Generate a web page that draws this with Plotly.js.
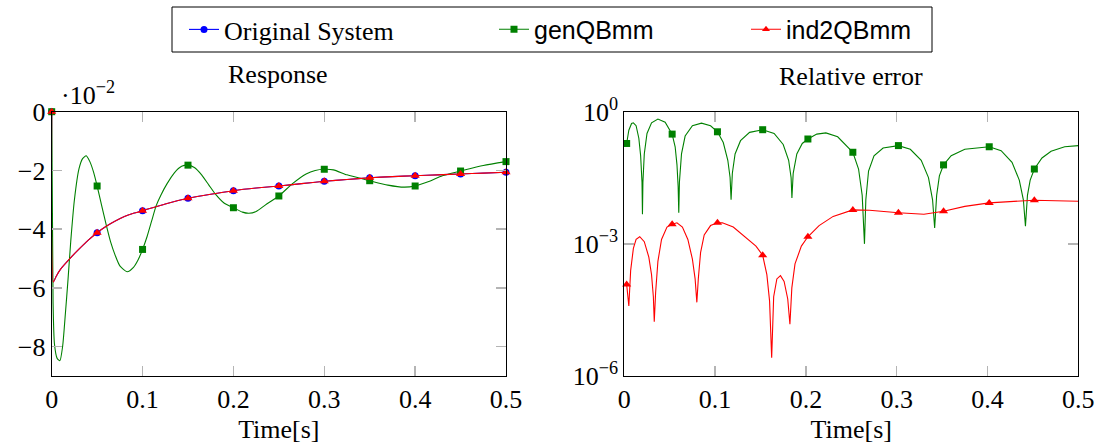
<!DOCTYPE html>
<html>
<head>
<meta charset="utf-8">
<script src="https://cdn.plot.ly/plotly-3.0.1.min.js"></script>
<style>html,body{margin:0;padding:0;background:#fff;}#chart{width:1100px;height:446px;}</style>
</head>
<body>
<div id="chart"></div>
<script>
// ---------- Data ----------
// Left panel: Response (values in units of 1e-2)
var respT = [0, 0.0018, 0.005, 0.01, 0.02, 0.03, 0.04, 0.05, 0.06, 0.07, 0.08, 0.09, 0.1, 0.125, 0.15, 0.175, 0.2, 0.225, 0.25, 0.275, 0.3, 0.325, 0.35, 0.375, 0.4, 0.425, 0.45, 0.475, 0.5];
var origResp = [0, -5.8, -5.6, -5.35, -5.0, -4.68, -4.38, -4.12, -3.9, -3.72, -3.57, -3.46, -3.37, -3.14, -2.95, -2.81, -2.69, -2.6, -2.53, -2.45, -2.37, -2.31, -2.25, -2.21, -2.18, -2.15, -2.12, -2.09, -2.06];
var ind2Resp = [0, -5.8, -5.6, -5.35, -5.0, -4.68, -4.38, -4.12, -3.9, -3.72, -3.57, -3.46, -3.37, -3.14, -2.95, -2.81, -2.69, -2.6, -2.53, -2.45, -2.37, -2.31, -2.25, -2.21, -2.18, -2.15, -2.12, -2.09, -2.06];

var genT = [0, 0.0015, 0.003, 0.006, 0.009, 0.012, 0.015, 0.018, 0.021, 0.025, 0.03, 0.034, 0.038, 0.042, 0.046, 0.05, 0.055, 0.06, 0.065, 0.07, 0.075, 0.083, 0.09, 0.095, 0.1, 0.105, 0.11, 0.115, 0.12, 0.127, 0.135, 0.143, 0.15, 0.157, 0.165, 0.173, 0.18, 0.19, 0.2, 0.21, 0.217, 0.225, 0.235, 0.25, 0.265, 0.28, 0.29, 0.3, 0.31, 0.325, 0.35, 0.37, 0.388, 0.4, 0.415, 0.43, 0.45, 0.475, 0.5];
var genResp = [0, -6.5, -7.9, -8.4, -8.48, -8.0, -6.9, -5.7, -4.4, -3.0, -1.95, -1.6, -1.5, -1.7, -2.05, -2.53, -3.2, -3.85, -4.45, -4.9, -5.25, -5.45, -5.3, -5.05, -4.69, -4.25, -3.72, -3.2, -2.85, -2.45, -2.08, -1.86, -1.82, -1.9, -2.15, -2.5, -2.8, -3.12, -3.27, -3.42, -3.46, -3.4, -3.18, -2.87, -2.45, -2.12, -2.0, -1.96, -1.98, -2.15, -2.35, -2.5, -2.57, -2.53, -2.38, -2.18, -2.02, -1.83, -1.70];

var respMarkT = [0, 0.05, 0.1, 0.15, 0.2, 0.25, 0.3, 0.35, 0.4, 0.45, 0.5];

// Right panel: Relative error
var genErrT = [0.0026, 0.005, 0.008, 0.010, 0.013, 0.016, 0.018, 0.0195, 0.020, 0.0205, 0.022, 0.025, 0.03, 0.037, 0.045, 0.0527, 0.056, 0.058, 0.0593, 0.060, 0.0607, 0.063, 0.067, 0.075, 0.085, 0.095, 0.1026, 0.109, 0.114, 0.1165, 0.1176, 0.119, 0.122, 0.128, 0.138, 0.1524, 0.165, 0.175, 0.181, 0.1837, 0.1846, 0.186, 0.19, 0.196, 0.2022, 0.212, 0.222, 0.235, 0.2517, 0.258, 0.262, 0.2645, 0.266, 0.269, 0.275, 0.285, 0.3019, 0.315, 0.327, 0.335, 0.3395, 0.3418, 0.344, 0.347, 0.3516, 0.36, 0.375, 0.4019, 0.415, 0.427, 0.435, 0.4395, 0.4418, 0.444, 0.447, 0.4516, 0.46, 0.47, 0.485, 0.5];
var genErr = [0.19, 0.38, 0.54, 0.56, 0.48, 0.25, 0.10, 0.025, 0.0047, 0.025, 0.11, 0.32, 0.56, 0.68, 0.58, 0.31, 0.16, 0.063, 0.02, 0.0051, 0.025, 0.11, 0.28, 0.48, 0.55, 0.48, 0.35, 0.2, 0.079, 0.032, 0.010, 0.04, 0.11, 0.22, 0.34, 0.39, 0.32, 0.18, 0.079, 0.032, 0.011, 0.04, 0.11, 0.19, 0.24, 0.31, 0.33, 0.27, 0.12, 0.05, 0.0126, 0.001, 0.01, 0.045, 0.1, 0.15, 0.17, 0.14, 0.079, 0.032, 0.01, 0.0023, 0.0126, 0.035, 0.062, 0.1, 0.14, 0.16, 0.13, 0.071, 0.028, 0.01, 0.0025, 0.0126, 0.028, 0.05, 0.089, 0.126, 0.16, 0.17];

var ind2ErrT = [0.0026, 0.005, 0.007, 0.01, 0.013, 0.017, 0.022, 0.027, 0.030, 0.032, 0.033, 0.0345, 0.037, 0.041, 0.047, 0.0527, 0.058, 0.064, 0.07, 0.075, 0.078, 0.0799, 0.0815, 0.084, 0.088, 0.095, 0.1026, 0.108, 0.12, 0.135, 0.145, 0.1524, 0.157, 0.160, 0.1623, 0.1645, 0.168, 0.172, 0.176, 0.18, 0.1824, 0.1845, 0.188, 0.195, 0.2022, 0.2145, 0.23, 0.2517, 0.27, 0.3019, 0.33, 0.3516, 0.375, 0.4019, 0.43, 0.4516, 0.475, 0.5];
var ind2Err = [1.2e-4, 3.9e-5, 2.5e-4, 7.9e-4, 1.26e-3, 1.45e-3, 1.12e-3, 5.0e-4, 2.0e-4, 6.3e-5, 1.7e-5, 7.9e-5, 4.0e-4, 1.26e-3, 2.4e-3, 2.8e-3, 3.0e-3, 2.4e-3, 1.26e-3, 4.5e-4, 1.6e-4, 4.7e-5, 1.6e-4, 6.3e-4, 1.6e-3, 2.6e-3, 3.0e-3, 3.0e-3, 2.4e-3, 1.35e-3, 8.9e-4, 5.5e-4, 2.0e-4, 5.0e-5, 2.6e-6, 6.3e-5, 1.6e-4, 1.9e-4, 1.4e-4, 5.6e-5, 1.5e-5, 1.0e-4, 3.5e-4, 8.9e-4, 1.45e-3, 2.6e-3, 4.2e-3, 5.9e-3, 5.8e-3, 5.1e-3, 4.7e-3, 5.5e-3, 7.1e-3, 8.5e-3, 9.3e-3, 9.8e-3, 9.5e-3, 9.3e-3];

var errMarkT = [0.0026, 0.0527, 0.1026, 0.1524, 0.2022, 0.2517, 0.3019, 0.3516, 0.4019, 0.4516];

var timeTicks = [0, 0.1, 0.2, 0.3, 0.4, 0.5];
var timeTickText = ['0', '0.1', '0.2', '0.3', '0.4', '0.5'];
var yTickVals = [-8, -6, -4, -2, 0];
var errTickVals = [1e-6, 1e-3, 1];
var errTickText = ['10<sup>\u22126</sup>', '10<sup>\u22123</sup>', '10<sup>0</sup>'];

// ---------- helpers ----------
function pick(t, v, marks) {
  var xs = [], ys = [];
  for (var i = 0; i < t.length; i++) {
    for (var j = 0; j < marks.length; j++) {
      if (Math.abs(t[i] - marks[j]) < 1e-7) { xs.push(t[i]); ys.push(v[i]); break; }
    }
  }
  return {x: xs, y: ys};
}

var W = 1100, H = 446;
var BLUE = '#0000ff', GREEN = '#008000', RED = '#ff0000';
var SERIF = 'Liberation Serif, Times New Roman, serif';

function lineTrace(x, y, color, xa, ya, shape) {
  return {x: x, y: y, xaxis: xa, yaxis: ya, type: 'scatter', mode: 'lines',
          line: {color: color, width: 1.1, shape: shape || 'linear', smoothing: 0.6},
          showlegend: false, hoverinfo: 'skip'};
}
function markTrace(p, color, symbol, size, xa, ya) {
  return {x: p.x, y: p.y, xaxis: xa, yaxis: ya, type: 'scatter', mode: 'markers',
          marker: {color: color, symbol: symbol, size: size, line: {width: 0}},
          showlegend: false, hoverinfo: 'skip', cliponaxis: false};
}

var traces = [];
// left panel
traces.push(lineTrace(respT, origResp, BLUE, 'x', 'y', 'spline'));
traces.push(markTrace(pick(respT, origResp, respMarkT), BLUE, 'circle', 7, 'x', 'y'));
traces.push(lineTrace(genT, genResp, GREEN, 'x', 'y', 'spline'));
traces.push(markTrace(pick(genT, genResp, respMarkT), GREEN, 'square', 7, 'x', 'y'));
traces.push(lineTrace(respT, ind2Resp, RED, 'x', 'y', 'spline'));
traces.push(markTrace(pick(respT, ind2Resp, respMarkT), RED, 'triangle-up', 8, 'x', 'y'));
// right panel
traces.push(lineTrace(genErrT, genErr, GREEN, 'x2', 'y2'));
traces.push(markTrace(pick(genErrT, genErr, errMarkT), GREEN, 'square', 7, 'x2', 'y2'));
traces.push(lineTrace(ind2ErrT, ind2Err, RED, 'x2', 'y2'));
traces.push(markTrace(pick(ind2ErrT, ind2Err, errMarkT), RED, 'triangle-up', 8, 'x2', 'y2'));

// legend entries (one legend per entry so each can be placed like the reference)
var legendDefs = [
  {name: 'Original System', color: BLUE, symbol: 'circle', size: 7, legend: 'legend', x: 184},
  {name: '<span style="font-family:Liberation Sans, Arial, sans-serif">genQBmm</span>', color: GREEN, symbol: 'square', size: 7, legend: 'legend2', x: 494},
  {name: '<span style="font-family:Liberation Sans, Arial, sans-serif">ind2QBmm</span>', color: RED, symbol: 'triangle-up', size: 7, legend: 'legend3', x: 746}
];
legendDefs.forEach(function (d) {
  traces.push({x: [null], y: [null], type: 'scatter', mode: 'lines+markers', name: d.name,
    legend: d.legend,
    line: {color: d.color, width: 1.1}, marker: {color: d.color, symbol: d.symbol, size: d.size},
    showlegend: true, hoverinfo: 'skip'});
});
function legendBox(xpx, size) {
  return {orientation: 'h', x: xpx / W, y: 1 - 29.5 / H, xanchor: 'left', yanchor: 'middle',
          bgcolor: 'rgba(0,0,0,0)', borderwidth: 0,
          font: {family: SERIF, size: size, color: '#000'}};
}

function axisStyle(extra) {
  var a = {
    showline: true, linecolor: '#000', linewidth: 1, mirror: 'ticks',
    ticks: 'inside', ticklen: 10, tickwidth: 1.5, tickcolor: '#b4b4b4',
    showgrid: false, zeroline: false,
    tickfont: {family: SERIF, size: 26, color: '#000'}
  };
  for (var k in extra) a[k] = extra[k];
  return a;
}

var yTop = 1 - 111.7 / H, yBot = 1 - 376 / H;

var layout = {
  width: W, height: H,
  margin: {l: 0, r: 0, t: 0, b: 0},
  paper_bgcolor: '#fff', plot_bgcolor: 'rgba(0,0,0,0)',
  font: {family: SERIF, size: 26, color: '#000'},
  showlegend: true,
  legend: legendBox(legendDefs[0].x, 26),
  legend2: legendBox(legendDefs[1].x, 25),
  legend3: legendBox(legendDefs[2].x, 25),
  xaxis: axisStyle({domain: [51.7 / W, 506 / W], range: [0, 0.5], anchor: 'y',
    tickvals: timeTicks, ticktext: timeTickText,
    title: {text: 'Time[s]', font: {family: SERIF, size: 26}, standoff: 6}}),
  yaxis: axisStyle({domain: [yBot, yTop], range: [-9, 0], anchor: 'x',
    tickvals: yTickVals}),
  xaxis2: axisStyle({domain: [624.3 / W, 1078.3 / W], range: [0, 0.5], anchor: 'y2',
    tickvals: timeTicks, ticktext: timeTickText,
    title: {text: 'Time[s]', font: {family: SERIF, size: 26}, standoff: 6}}),
  yaxis2: axisStyle({domain: [yBot, yTop], type: 'log', range: [-6, 0], anchor: 'x2',
    tickvals: errTickVals, ticktext: errTickText}),
  shapes: [
    {type: 'rect', xref: 'paper', yref: 'paper', x0: 172 / W, x1: 932 / W, y0: 1 - 7 / H, y1: 1 - 52 / H,
     line: {color: '#000', width: 1}, fillcolor: 'rgba(0,0,0,0)', layer: 'below'}
  ],
  annotations: [
    {text: 'Response', xref: 'paper', yref: 'paper', x: 278 / W, y: 1 - 74 / H,
     xanchor: 'center', yanchor: 'middle', showarrow: false, font: {family: SERIF, size: 26}},
    {text: 'Relative error', xref: 'paper', yref: 'paper', x: 851 / W, y: 1 - 77 / H,
     xanchor: 'center', yanchor: 'middle', showarrow: false, font: {family: SERIF, size: 26}},
    {text: '\u00b710<sup>\u22122</sup>', xref: 'paper', yref: 'paper', x: 59 / W, y: 1 - 94 / H,
     xanchor: 'left', yanchor: 'middle', showarrow: false, font: {family: SERIF, size: 26}}
  ]
};

Plotly.newPlot('chart', traces, layout, {displayModeBar: false, staticPlot: true});
</script>
</body>
</html>
